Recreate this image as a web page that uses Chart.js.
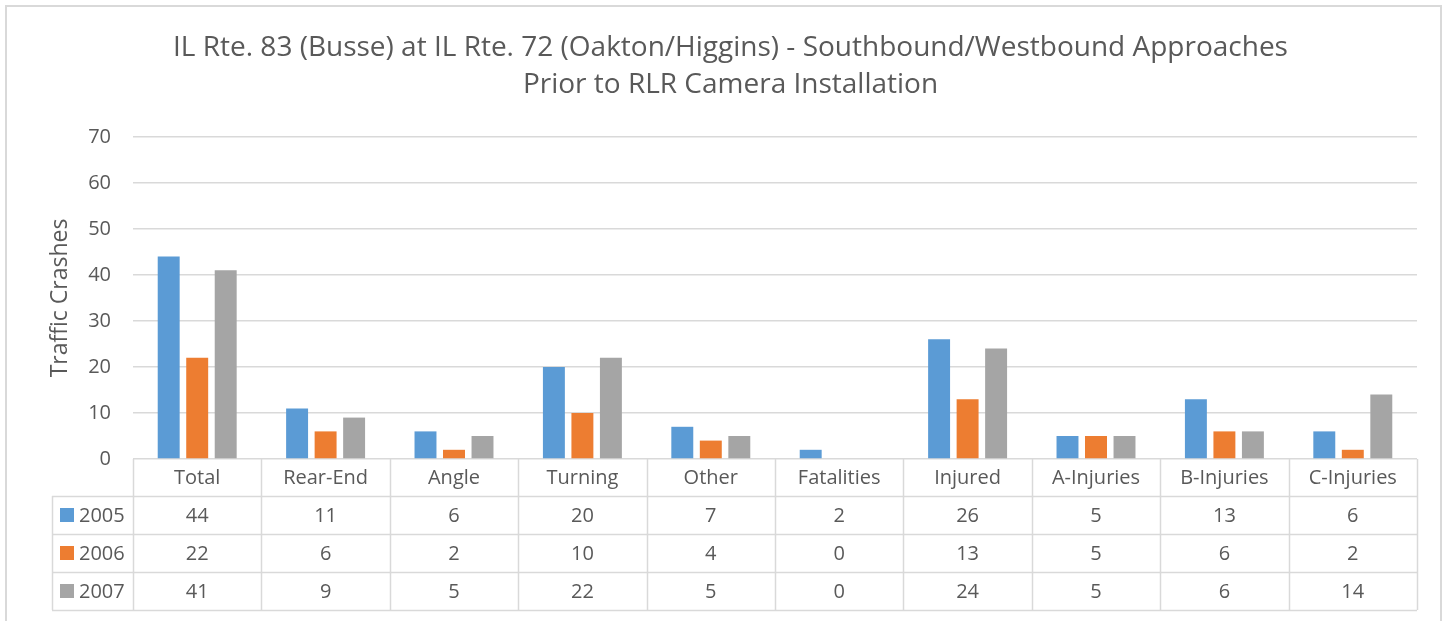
<!DOCTYPE html>
<html>
<head>
<meta charset="utf-8">
<script src="https://cdn.jsdelivr.net/npm/chart.js@4"></script>
<style>
html,body{margin:0;padding:0;background:#fff;}
#wrap{width:1449px;height:621px;position:relative;}
</style>
</head>
<body>
<div id="wrap"><canvas id="c" width="1449" height="621"></canvas></div>
<script>
const titleLines = ['IL Rte. 83 (Busse) at IL Rte. 72 (Oakton/Higgins) - Southbound/Westbound Approaches', 'Prior to RLR Camera Installation'];
const yTitle = 'Traffic Crashes';
const categories = ['Total','Rear-End','Angle','Turning','Other','Fatalities','Injured','A-Injuries','B-Injuries','C-Injuries'];
const seriesNames = ['2005','2006','2007'];
const s2005 = [44,11,6,20,7,2,26,5,13,6];
const s2006 = [22,6,2,10,4,0,13,5,6,2];
const s2007 = [41,9,5,22,5,0,24,5,6,14];
const colors = ['#5B9BD5','#ED7D31','#A5A5A5'];
const yTicks = [0,10,20,30,40,50,60,70];

const FONT = "'Open Sans', sans-serif";
const TXT = '#595959';
const GRID = '#D9D9D9';

const frame = {
  id: 'frame',
  beforeDraw(chart) {
    const ctx = chart.ctx;
    ctx.save();
    ctx.fillStyle = '#fff';
    ctx.fillRect(0, 0, chart.width, chart.height);
    ctx.strokeStyle = GRID;
    ctx.lineWidth = 2;
    ctx.strokeRect(6, 6, 1435, 640);
    ctx.restore();
  }
};

const dataTable = {
  id: 'dataTable',
  afterDraw(chart) {
    const ctx = chart.ctx;
    const xs = chart.scales.x;
    const area = chart.chartArea;
    const step = xs.getPixelForValue(1) - xs.getPixelForValue(0);
    const top = area.bottom;
    const headerH = 37, rowH = 38;
    const tableLeft = 52;
    const rows = chart.data.datasets;
    const bottom = top + headerH + rowH * rows.length;
    ctx.save();
    ctx.strokeStyle = GRID;
    ctx.lineWidth = 1.5;
    ctx.beginPath();
    for (let i = 0; i <= categories.length; i++) {
      const xp = i < categories.length ? xs.getPixelForValue(i) - step / 2 : xs.getPixelForValue(categories.length - 1) + step / 2;
      ctx.moveTo(Math.round(xp) + 0.5, top);
      ctx.lineTo(Math.round(xp) + 0.5, bottom);
    }
    ctx.moveTo(tableLeft + 0.5, top + headerH);
    ctx.lineTo(tableLeft + 0.5, bottom);
    for (let r = 0; r <= rows.length; r++) {
      const yp = top + headerH + r * rowH;
      ctx.moveTo(tableLeft, Math.round(yp) + 0.5);
      ctx.lineTo(area.right, Math.round(yp) + 0.5);
    }
    ctx.stroke();

    ctx.fillStyle = TXT;
    ctx.font = '20px ' + FONT;
    ctx.textAlign = 'center';
    ctx.textBaseline = 'middle';
    categories.forEach((c, i) => {
      ctx.fillText(c, xs.getPixelForValue(i), top + headerH / 2 + 1);
    });
    rows.forEach((ds, r) => {
      const cy = top + headerH + r * rowH + rowH / 2 + 1;
      ds.data.forEach((v, i) => {
        ctx.fillStyle = TXT;
        ctx.textAlign = 'center';
        ctx.fillText(String(v), xs.getPixelForValue(i), cy);
      });
      ctx.fillStyle = ds.backgroundColor;
      ctx.fillRect(60, Math.round(cy - 8), 14, 14);
      ctx.fillStyle = TXT;
      ctx.textAlign = 'left';
      ctx.fillText(ds.label, 79, cy);
    });
    ctx.restore();
  }
};

new Chart(document.getElementById('c'), {
  type: 'bar',
  data: {
    labels: categories,
    datasets: [
      { label: seriesNames[0], data: s2005, backgroundColor: colors[0] },
      { label: seriesNames[1], data: s2006, backgroundColor: colors[1] },
      { label: seriesNames[2], data: s2007, backgroundColor: colors[2] }
    ]
  },
  options: {
    responsive: false,
    animation: false,
    devicePixelRatio: 1,
    categoryPercentage: 0.666,
    barPercentage: 0.77,
    layout: { padding: { left: 44, right: 32, top: 10, bottom: 162 } },
    plugins: {
      legend: { display: false },
      tooltip: { enabled: false },
      title: {
        display: true,
        text: titleLines,
        color: TXT,
        font: { family: FONT, size: 28, weight: 'normal', lineHeight: 1.32 },
        padding: { top: 20, bottom: 33 }
      }
    },
    scales: {
      x: { display: false, offset: true },
      y: {
        min: 0, max: 70,
        afterFit(scale) { scale.width = 89; },
        afterBuildTicks(scale) { scale.ticks = yTicks.map(v => ({ value: v })); },
        border: { display: false },
        grid: { color: GRID, lineWidth: 1.5, drawTicks: false },
        ticks: { color: TXT, font: { family: FONT, size: 20 }, padding: 22 },
        title: { display: true, text: yTitle, color: TXT, font: { family: FONT, size: 23 }, padding: { top: 3, bottom: 4 } }
      }
    }
  },
  plugins: [frame, dataTable]
});
</script>
</body>
</html>
